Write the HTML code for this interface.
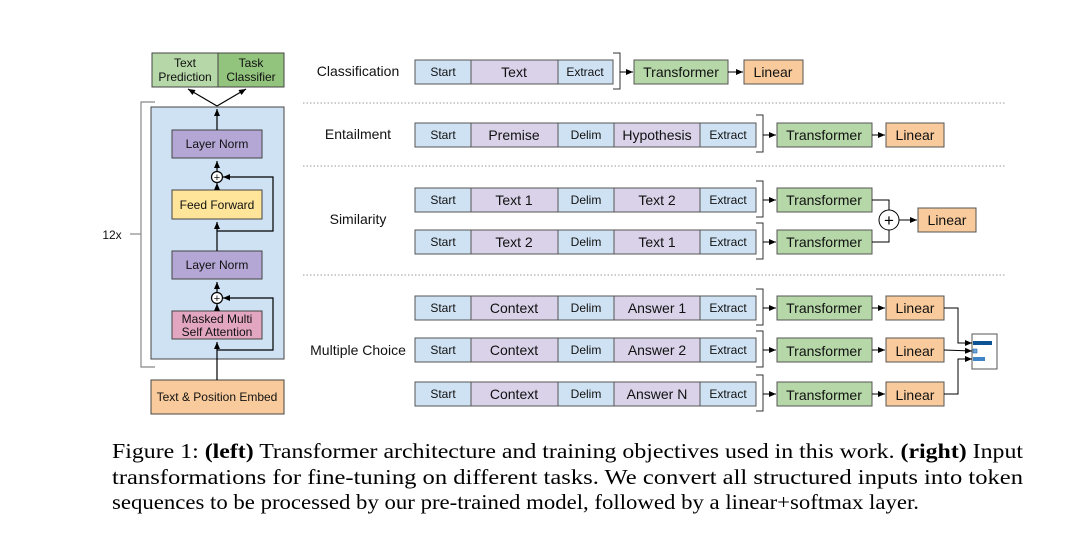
<!DOCTYPE html>
<html><head><meta charset="utf-8"><style>
html,body{margin:0;padding:0;background:#fff;}
svg{display:block;}
text{font-family:"Liberation Sans",sans-serif;}
.c{font-family:"Liberation Serif",serif;font-size:21px;fill:#000;}
</style></head><body>
<svg width="1068" height="538" viewBox="0 0 1068 538" xmlns="http://www.w3.org/2000/svg">
<defs><marker id="a" markerWidth="8" markerHeight="8" refX="7" refY="4" orient="auto" markerUnits="userSpaceOnUse"><path d="M0,1 L7,4 L0,7 z" fill="#000"/></marker></defs>
<g stroke="#444" stroke-width="1">
<!-- left -->
<rect x="152" y="53" width="66" height="34" fill="#b6d7a8"/>
<rect x="218" y="53" width="66" height="34" fill="#93c47d"/>
<rect x="151" y="107" width="133" height="252" fill="#cfe2f3"/>
<rect x="172" y="130" width="90" height="28" fill="#b4a7d6"/>
<rect x="172" y="190" width="90" height="29" fill="#ffe599"/>
<rect x="172" y="251" width="90" height="28" fill="#b4a7d6"/>
<rect x="172" y="311" width="90" height="28" fill="#e3a6c0"/>
<rect x="151" y="380" width="133" height="34" fill="#f9cb9c"/>
</g>
<g stroke="#000" stroke-width="1.2" fill="none">
<line x1="217" y1="380" x2="217" y2="342" marker-end="url(#a)"/>
<line x1="217" y1="311" x2="217" y2="304" marker-end="url(#a)"/>
<line x1="217" y1="292" x2="217" y2="282" marker-end="url(#a)"/>
<circle cx="217" cy="298" r="5.5" fill="#fff"/>
<polyline points="217,350 273,350 273,298 223,298" marker-end="url(#a)"/>
<line x1="217" y1="251" x2="217" y2="222" marker-end="url(#a)"/>
<line x1="217" y1="190" x2="217" y2="183" marker-end="url(#a)"/>
<line x1="217" y1="171" x2="217" y2="161" marker-end="url(#a)"/>
<circle cx="217" cy="177" r="5.5" fill="#fff"/>
<polyline points="217,231 273,231 273,177 223,177" marker-end="url(#a)"/>
<line x1="217" y1="130" x2="217" y2="109" marker-end="url(#a)"/>
<line x1="217" y1="106" x2="188" y2="89" marker-end="url(#a)"/>
<line x1="217" y1="106" x2="246" y2="89" marker-end="url(#a)"/>
</g>
<g stroke="#888" stroke-width="1.2" fill="none">
<polyline points="155,102 141,102 141,367 155,367"/>
<line x1="130" y1="234" x2="141" y2="234"/>
</g>
<g font-size="12" text-anchor="middle" fill="#111">
<text x="185" y="67">Text</text><text x="185" y="81">Prediction</text>
<text x="251" y="67">Task</text><text x="251" y="81">Classifier</text>
<text x="217" y="148">Layer Norm</text>
<text x="217" y="209">Feed Forward</text>
<text x="217" y="269">Layer Norm</text>
<text x="217" y="323">Masked Multi</text><text x="217" y="336">Self Attention</text>
<text x="217" y="401">Text &amp; Position Embed</text>
<text x="112" y="239">12x</text>
<text x="217" y="181" font-size="11">+</text>
<text x="217" y="302" font-size="11">+</text>
</g>
<!-- dotted separators -->
<g stroke="#999" stroke-width="1" stroke-dasharray="1.5,2">
<line x1="303" y1="103" x2="1005" y2="103"/>
<line x1="303" y1="166" x2="1005" y2="166"/>
<line x1="303" y1="275" x2="1005" y2="275"/>
</g>
<g font-size="14" text-anchor="middle" fill="#111">
<text x="358" y="76">Classification</text>
<text x="358" y="139">Entailment</text>
<text x="358" y="224">Similarity</text>
<text x="358" y="355">Multiple Choice</text>
</g>
<!-- token rows -->
<g stroke="#555" stroke-width="1">
<rect x="415" y="60" width="56" height="24" fill="#cfe2f3"/><rect x="471" y="60" width="87" height="24" fill="#d9d2e9"/><rect x="558" y="60" width="55" height="24" fill="#cfe2f3"/>
<g id="r"><rect x="415" y="123" width="56" height="24" fill="#cfe2f3"/><rect x="471" y="123" width="87" height="24" fill="#d9d2e9"/><rect x="558" y="123" width="56" height="24" fill="#cfe2f3"/><rect x="614" y="123" width="86" height="24" fill="#d9d2e9"/><rect x="700" y="123" width="56" height="24" fill="#cfe2f3"/></g>
<use href="#r" y="65"/><use href="#r" y="107"/><use href="#r" y="173"/><use href="#r" y="215"/><use href="#r" y="259"/>
<!-- transformers/linears -->
<rect x="634" y="60" width="94" height="24" fill="#b6d7a8"/><rect x="744" y="60" width="59" height="24" fill="#f9cb9c"/>
<rect x="777" y="123" width="95" height="24" fill="#b6d7a8"/><rect x="886" y="123" width="58" height="24" fill="#f9cb9c"/>
<rect x="777" y="188" width="95" height="24" fill="#b6d7a8"/><rect x="777" y="230" width="95" height="24" fill="#b6d7a8"/>
<rect x="918" y="208" width="58" height="24" fill="#f9cb9c"/>
<rect x="777" y="296" width="95" height="24" fill="#b6d7a8"/><rect x="886" y="296" width="58" height="24" fill="#f9cb9c"/>
<rect x="777" y="338" width="95" height="24" fill="#b6d7a8"/><rect x="886" y="338" width="58" height="24" fill="#f9cb9c"/>
<rect x="777" y="382" width="95" height="24" fill="#b6d7a8"/><rect x="886" y="382" width="58" height="24" fill="#f9cb9c"/>
<rect x="972" y="334" width="25" height="35" fill="#fff"/>
</g>
<rect x="973" y="341" width="19" height="4" fill="#0b5394"/>
<rect x="973" y="349" width="4" height="4" fill="#6fa8dc" stroke="#0b5394" stroke-width="0.5"/>
<rect x="973" y="357" width="12" height="4" fill="#3d85c6"/>
<!-- brackets & arrows -->
<g stroke="#333" stroke-width="1" fill="none">
<polyline points="613,53 620,53 620,89 613,89"/>
<polyline points="756,115 763,115 763,152 756,152"/>
<polyline points="756,181 763,181 763,217 756,217"/>
<polyline points="756,223 763,223 763,259 756,259"/>
<polyline points="756,289 763,289 763,325 756,325"/>
<polyline points="756,331 763,331 763,367 756,367"/>
<polyline points="756,375 763,375 763,411 756,411"/>
</g>
<g stroke="#000" stroke-width="1" fill="none">
<line x1="620" y1="72" x2="633" y2="72" marker-end="url(#a)"/>
<line x1="728" y1="72" x2="743" y2="72" marker-end="url(#a)"/>
<line x1="763" y1="135" x2="776" y2="135" marker-end="url(#a)"/>
<line x1="872" y1="135" x2="885" y2="135" marker-end="url(#a)"/>
<line x1="763" y1="200" x2="776" y2="200" marker-end="url(#a)"/>
<line x1="763" y1="242" x2="776" y2="242" marker-end="url(#a)"/>
<polyline points="872,200 889,200 889,210"/>
<polyline points="872,242 889,242 889,230"/>
<circle cx="889" cy="220" r="10" fill="#fff"/>
<line x1="899" y1="220" x2="917" y2="220" marker-end="url(#a)"/>
<line x1="763" y1="308" x2="776" y2="308" marker-end="url(#a)"/>
<line x1="763" y1="350" x2="776" y2="350" marker-end="url(#a)"/>
<line x1="763" y1="394" x2="776" y2="394" marker-end="url(#a)"/>
<line x1="872" y1="308" x2="885" y2="308" marker-end="url(#a)"/>
<line x1="872" y1="350" x2="885" y2="350" marker-end="url(#a)"/>
<line x1="872" y1="394" x2="885" y2="394" marker-end="url(#a)"/>
<polyline points="944,308 958,308 958,343 972,343" marker-end="url(#a)"/>
<line x1="944" y1="350" x2="972" y2="351" marker-end="url(#a)"/>
<polyline points="944,394 958,394 958,359 972,359" marker-end="url(#a)"/>
</g>
<text x="889" y="226" font-size="17" text-anchor="middle">+</text>
<g font-size="12" text-anchor="middle" fill="#111">
<text x="443" y="76">Start</text><text x="585" y="76">Extract</text>
<text x="443" y="139">Start</text><text x="586" y="139">Delim</text><text x="728" y="139">Extract</text>
<text x="443" y="204">Start</text><text x="586" y="204">Delim</text><text x="728" y="204">Extract</text>
<text x="443" y="246">Start</text><text x="586" y="246">Delim</text><text x="728" y="246">Extract</text>
<text x="443" y="312">Start</text><text x="586" y="312">Delim</text><text x="728" y="312">Extract</text>
<text x="443" y="354">Start</text><text x="586" y="354">Delim</text><text x="728" y="354">Extract</text>
<text x="443" y="398">Start</text><text x="586" y="398">Delim</text><text x="728" y="398">Extract</text>
</g>
<g font-size="14" text-anchor="middle" fill="#111">
<text x="514" y="77">Text</text>
<text x="514" y="140">Premise</text><text x="657" y="140">Hypothesis</text>
<text x="514" y="205">Text 1</text><text x="657" y="205">Text 2</text>
<text x="514" y="247">Text 2</text><text x="657" y="247">Text 1</text>
<text x="514" y="313">Context</text><text x="657" y="313">Answer 1</text>
<text x="514" y="355">Context</text><text x="657" y="355">Answer 2</text>
<text x="514" y="399">Context</text><text x="657" y="399">Answer N</text>
<text x="681" y="77">Transformer</text><text x="773" y="77">Linear</text>
<text x="824" y="140">Transformer</text><text x="915" y="140">Linear</text>
<text x="824" y="205">Transformer</text><text x="824" y="247">Transformer</text><text x="947" y="225">Linear</text>
<text x="824" y="313">Transformer</text><text x="915" y="313">Linear</text>
<text x="824" y="356">Transformer</text><text x="915" y="356">Linear</text>
<text x="824" y="400">Transformer</text><text x="915" y="400">Linear</text>
</g>
<text class="c" x="112" y="458" textLength="911" lengthAdjust="spacingAndGlyphs">Figure 1: <tspan font-weight="bold">(left)</tspan> Transformer architecture and training objectives used in this work. <tspan font-weight="bold">(right)</tspan> Input</text>
<text class="c" x="112" y="484" textLength="911" lengthAdjust="spacingAndGlyphs">transformations for fine-tuning on different tasks.  We convert all structured inputs into token</text>
<text class="c" x="112" y="509" textLength="807" lengthAdjust="spacingAndGlyphs">sequences to be processed by our pre-trained model, followed by a linear+softmax layer.</text>
</svg>
</body></html>
